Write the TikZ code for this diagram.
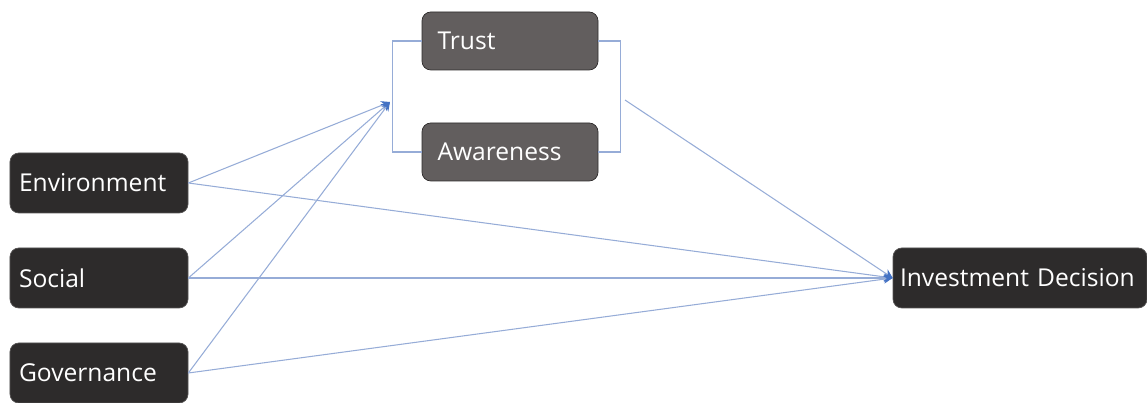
\documentclass[tikz,border=0pt]{standalone}
\usepackage{fontspec}
\setmainfont{Open Sans}
\usetikzlibrary{arrows.meta,positioning,calc}
\usepackage{xcolor}
\definecolor{boxdark}{RGB}{45,43,43}
\definecolor{boxgrey}{RGB}{98,94,94}
\definecolor{linkblue}{RGB}{150,172,215}
\definecolor{tipblue}{RGB}{68,114,196}

\begin{document}
\begin{tikzpicture}[
    factor/.style={rectangle, rounded corners=5pt, draw=boxdark!80, fill=boxdark,
                   minimum height=1.2cm, inner sep=0pt, text=white, font=\fontsize{14}{16}\selectfont},
    mediator/.style={rectangle, rounded corners=5pt, draw=boxdark, fill=boxgrey,
                   minimum height=1.16cm, inner sep=0pt, text=white, font=\fontsize{14}{16}\selectfont},
    link/.style={draw=linkblue, line width=0.6pt},
    arrowlink/.style={link, -{Stealth[length=5pt,width=5pt,fill=tipblue,color=tipblue]}}
]
\useasboundingbox (0,0) rectangle (22.94,8.06);

% ESG factors
\node[factor, text width=3.2cm, minimum width=3.56cm, align=left] (env) at (1.98, 4.4) {Environment};
\node[factor, text width=3.2cm, minimum width=3.56cm, align=left] (soc) at (1.98, 2.5) {Social};
\node[factor, text width=3.2cm, minimum width=3.56cm, align=left] (gov) at (1.98, 0.6) {Governance};

% mediators
\node[mediator, text width=2.9cm, minimum width=3.52cm, align=left] (trust) at (10.2, 7.24) {Trust};
\node[mediator, text width=2.9cm, minimum width=3.52cm, align=left] (aware) at (10.2, 5.02) {Awareness};

% outcome
\node[factor, text width=4.8cm, minimum width=5.08cm, align=left] (invest) at (20.4, 2.5) {Investment Decision};

% brackets round the mediators
\coordinate (medin) at (7.8, 6.02);
\coordinate (medout) at (12.5, 6.06);
\draw[link] (trust.west) -- ++(-0.58,0) |- (aware.west);
\draw[link] (trust.east) -- ++(0.44,0) |- (aware.east);

% paths into the mediators
\draw[arrowlink] (env.east) -- (medin);
\draw[arrowlink] (soc.east) -- (medin);
\draw[arrowlink] (gov.east) -- (medin);

% direct paths and mediated path
\draw[arrowlink] (env.east) -- (invest.west);
\draw[arrowlink] (soc.east) -- (invest.west);
\draw[arrowlink] (gov.east) -- (invest.west);
\draw[arrowlink] (medout) -- (invest.west);
\end{tikzpicture}
\end{document}
